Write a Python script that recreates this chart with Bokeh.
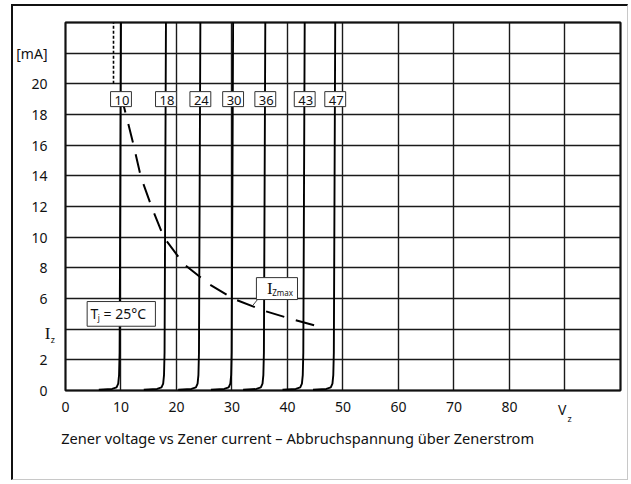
from bokeh.plotting import figure
from bokeh.models import FixedTicker, Label, Range1d, LinearAxis, Grid
from bokeh.embed import file_html
from bokeh.resources import INLINE

# ---- data ----
x_ticks = [0, 10, 20, 30, 40, 50, 60, 70, 80, 90, 100]
x_tick_labels = ["0", "10", "20", "30", "40", "50", "60", "70", "80", "", ""]
y_ticks = [0, 2, 4, 6, 8, 10, 12, 14, 16, 18, 20, 22, 24]
y_tick_labels = ["0", "2", "", "6", "8", "10", "12", "14", "16", "18", "20", "[mA]", ""]

V_MAX = 100
I_MAX = 24

zener_names = ["10", "18", "24", "30", "36", "43", "47"]
zener_top_v = [10.0, 18.1, 24.3, 30.2, 36.0, 43.1, 48.6]
knee_dv = [-4.0, -1.6, -0.8, -0.5, -0.35, -0.25, 0.0]
knee_i = [0.05, 0.1, 0.2, 0.45, 1.0, 2.5, 24.0]

izmax_v = [10.4, 12.2, 13.6, 15.6, 17.7, 21.3, 25.8, 30.3, 35.7, 41.0, 46.3]
izmax_i = [18.7, 16.1, 13.9, 11.9, 10.0, 8.25, 6.95, 5.97, 5.21, 4.63, 4.10]

limit_v = [8.65, 8.65]
limit_i = [20.0, 24.0]

caption = "Zener voltage vs Zener current \u2013 Abbruchspannung \u00fcber Zenerstrom"

FONT = "Noto Sans"
SERIF = "Liberation Serif"
INK = "#111111"

# the frame covers the whole canvas; the diagram box is 0..100 V x 0..24 mA
p = figure(width=617, height=476,
           x_range=Range1d(-9.369, 101.802), y_range=Range1d(-6.0, 25.04),
           output_backend="svg", toolbar_location=None,
           x_axis_location=None, y_axis_location=None,
           min_border_left=0, min_border_right=0,
           min_border_top=0, min_border_bottom=0)
p.styles = {"margin-left": "11px", "margin-top": "4px",
            "border-left": "2px solid #111", "border-top": "2px solid #111",
            "border-right": "1px solid #c8c8c8", "border-bottom": "1px solid #c8c8c8"}
p.outline_line_color = None
p.background_fill_color = "white"
p.border_fill_color = "white"
p.grid.visible = False

p.add_layout(Grid(dimension=0, ticker=FixedTicker(ticks=x_ticks), cross_bounds=(0, I_MAX),
                  grid_line_color="#1a1a1a", grid_line_width=1.4))
p.add_layout(Grid(dimension=1, ticker=FixedTicker(ticks=y_ticks), cross_bounds=(0, V_MAX),
                  grid_line_color="#1a1a1a", grid_line_width=1.4))


def style_axis(ax, standoff):
    ax.axis_line_color = None
    ax.major_tick_line_color = None
    ax.minor_tick_line_color = None
    ax.major_label_text_font = FONT
    ax.major_label_text_font_size = "14px"
    ax.major_label_text_color = INK
    ax.major_label_standoff = standoff


xax = LinearAxis(fixed_location=0, ticker=FixedTicker(ticks=x_ticks),
                 major_label_overrides={t: s for t, s in zip(x_ticks, x_tick_labels)})
style_axis(xax, 6)
p.add_layout(xax, "below")
yax = LinearAxis(fixed_location=0, ticker=FixedTicker(ticks=y_ticks),
                 major_label_overrides={t: s for t, s in zip(y_ticks, y_tick_labels)})
style_axis(yax, 12)
p.add_layout(yax, "left")

# diagram box
p.quad(left=[0], right=[V_MAX], bottom=[0], top=[I_MAX],
       fill_color=None, line_color=INK, line_width=2)

# zener breakdown curves
xs = [[v + d for d in knee_dv] for v in zener_top_v]
ys = [list(knee_i) for _ in zener_top_v]
p.multi_line(xs, ys, line_color="black", line_width=1.9)

# short dashed limit line at top of 10 V curve
p.line(limit_v, limit_i, line_color="black", line_width=1.6, line_dash="3 2")

# I_Zmax dashed hyperbola
p.line(izmax_v, izmax_i, line_color="black", line_width=2.0,
       line_dash="19 12", line_dash_offset=10)

# leader line of I_Zmax box
p.line([34.6, 33.8], [5.93, 5.57], line_color="#444444", line_width=1)

# boxes (drawn over curves)
p.quad(left=[3.9], right=[16.2], bottom=[4.19], top=[5.8],
       fill_color="white", line_color="#333333", line_width=1)
p.quad(left=[34.4], right=[41.8], bottom=[5.93], top=[7.36],
       fill_color="white", line_color="#333333", line_width=1)


def label(x, y, text, size, font=FONT, align="left", **kw):
    p.add_layout(Label(x=x, y=y, text=text, text_align=align, text_baseline="middle",
                       text_font=font, text_font_size=size, text_color=INK, **kw))


# voltage labels in boxes
for name, v in zip(zener_names, zener_top_v):
    label(v, 19.0, name, "13px", align="center",
          background_fill_color="white", border_line_color="#333333",
          border_line_width=1, padding=(4, 2, 4, 2))

# T_j = 25°C
label(4.5, 5.02, "T", "14px")
label(5.8, 4.75, "j", "8px")
label(6.85, 5.02, "= 25°C", "14px")

# I_Zmax
label(36.3, 6.68, "I", "17px", font=SERIF)
label(37.25, 6.39, "Zmax", "8px")

# axis symbols I_z and V_z
label(-2.7, 3.72, "I", "17px", font=SERIF, align="right")
label(-2.65, 3.33, "z", "9px")
label(89.5, -1.24, "V", "14px", align="center")
label(90.45, -1.83, "z", "9px")

# caption
label(-0.77, -3.07, caption, "14.6px")

open("out.html", "w").write(file_html(p, INLINE))
